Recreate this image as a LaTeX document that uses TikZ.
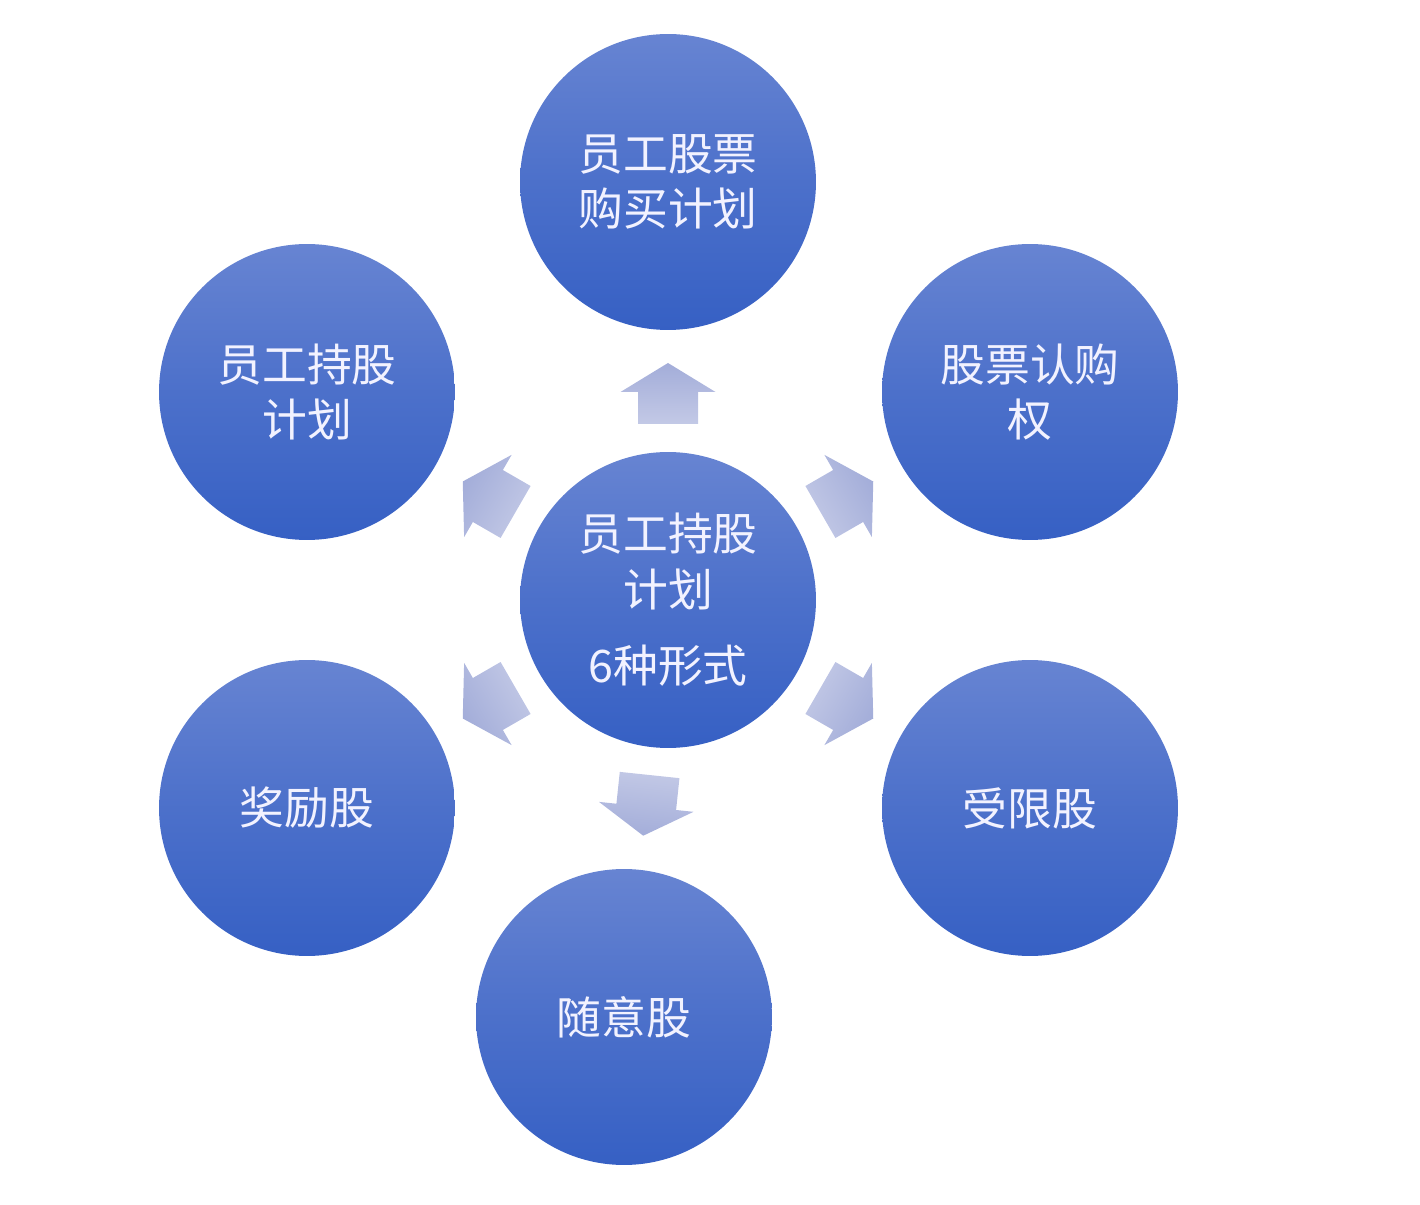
\documentclass[tikz,border=0pt]{standalone}
\usepackage{fontspec}
\newfontfamily\cjk{Noto Sans CJK SC}
\definecolor{balltop}{HTML}{6784D2}
\definecolor{ballbot}{HTML}{3660C4}
\definecolor{arrtip}{HTML}{A3ADD9}
\definecolor{arrback}{HTML}{C3C9E6}
\tikzset{
  ball/.style={circle, minimum size=5.92cm, inner sep=0pt, top color=balltop,
    bottom color=ballbot, middle color=ballbot!55!balltop, text=white!95!blue,
    align=center, font=\cjk\fontsize{25.5}{31.5}\selectfont},
}
\begin{document}
\begin{tikzpicture}[x=0.02cm, y=0.02cm]
  \useasboundingbox (0,0) rectangle (1420,1204);
  % circles
  \node[ball] (mid)   at (668,604)  {员工持股\\计划\\[12pt]6种形式};
  \node[ball] (buy)   at (668,1022) {员工股票\\购买计划};
  \node[ball] (own)   at (307,812)  {员工持股\\计划};
  \node[ball] (opt)   at (1030,812) {股票认购\\权};
  \node[ball] (bonus) at (307,396)  {奖励股};
  \node[ball] (limit) at (1030,396) {受限股};
  \node[ball] (free)  at (624,187)  {随意股};
  % block arrows out of the middle
  \foreach \a in {90,150,30,-30,-150,-96}{
    \begin{scope}[shift={(mid.center)}, rotate=\a]
      \shade[top color=arrtip, bottom color=arrback, shading angle=\a-90]
        (176,-30) -- (208,-30) -- (208,-47.5) -- (237,0) -- (208,47.5)
        -- (208,30) -- (176,30) -- cycle;
    \end{scope}
  }
\end{tikzpicture}
\end{document}
